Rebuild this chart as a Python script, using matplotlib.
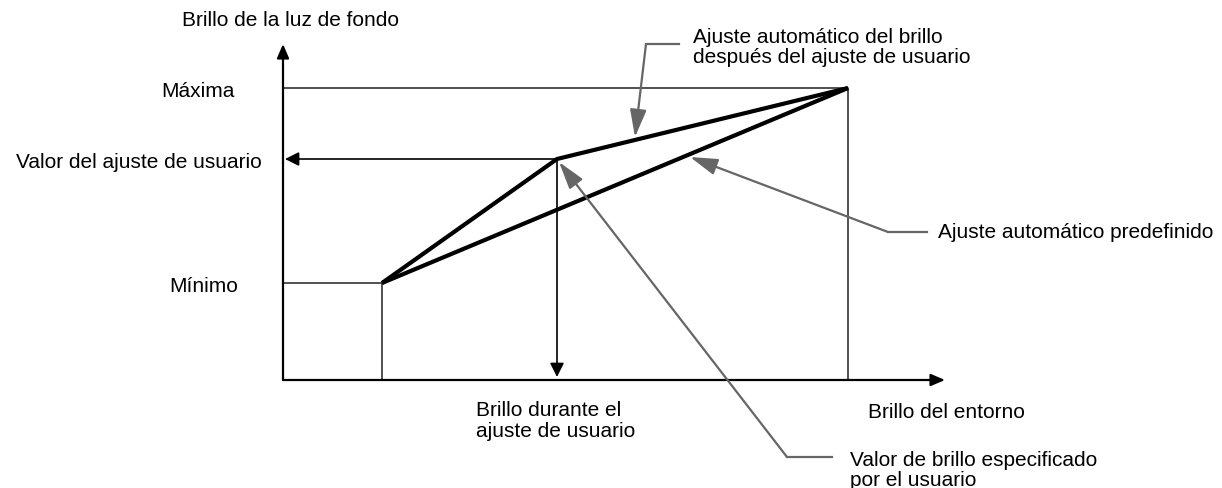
import matplotlib
matplotlib.use('Agg')
import matplotlib.pyplot as plt

# --- schematic values (ambient brightness on x, backlight brightness on y) ---
AMBIENT = [0.99, 2.74, 5.65]        # min point, user-set ambient, max point
BACKLIGHT = [0.97, 2.21, 2.92]      # Mínimo, user value, Máxima
X_AXIS_END = 6.62
Y_AXIS_END = 3.36

LEVEL_LABELS = ['Mínimo', 'Valor del ajuste de usuario', 'Máxima']
LABEL_RIGHT = [-0.45, -0.21, -0.48]

# callouts: text, text anchor, elbow start, elbow end, arrow tip
CALLOUTS = [
    ('Ajuste automático del brillo\ndespués del ajuste de usuario',
     (4.10, 3.335), (3.96, 3.36), (3.63, 3.36), (3.52, 2.43)),
    ('Ajuste automático predefinido',
     (6.55, 1.48), (6.44, 1.48), (6.05, 1.48), (4.07, 2.23)),
    ('Valor de brillo especificado\npor el usuario',
     (5.67, -0.895), (5.49, -0.77), (5.04, -0.77), (2.76, 2.18)),
]

plt.rcParams['font.family'] = ['Liberation Sans', 'DejaVu Sans']
FS = 15
LS = 1.1
AXIS_C = '#333333'
LEADER_C = '#666666'

fig = plt.figure(figsize=(12.22, 4.89), dpi=100)
ax = fig.add_axes([0, 0, 1, 1])
ax.set_xlim(-2.83, 9.39)
ax.set_ylim(-1.08, 3.81)
ax.axis('off')

x_min, x_user, x_max = AMBIENT
y_min, y_user, y_max = BACKLIGHT

# axes with arrowheads
axis_arrow = dict(arrowstyle='-|>,head_length=0.7,head_width=0.3',
                  color='black', lw=1.6, shrinkA=0, shrinkB=0, mutation_scale=12)
ax.annotate('', xy=(0, Y_AXIS_END), xytext=(0, 0), arrowprops=axis_arrow)
ax.annotate('', xy=(X_AXIS_END, 0), xytext=(0, 0), arrowprops=axis_arrow)

# guide lines for minimum and maximum
ax.plot([0, x_min, x_min], [y_min, y_min, 0], color=AXIS_C, lw=1.2)
ax.plot([0, x_max, x_max], [y_max, y_max, 0], color=AXIS_C, lw=1.2)

# user setting arrows
user_arrow = dict(arrowstyle='-|>,head_length=0.7,head_width=0.35',
                  color='black', lw=1.2, shrinkA=0, shrinkB=0, mutation_scale=12)
ax.annotate('', xy=(0.02, y_user), xytext=(x_user, y_user), arrowprops=user_arrow)
ax.annotate('', xy=(x_user, 0.03), xytext=(x_user, y_user), arrowprops=user_arrow)

# brightness curves
ax.plot([x_min, x_max], [y_min, y_max], color='black', lw=3.0,
        solid_joinstyle='miter', solid_capstyle='butt')
ax.plot(AMBIENT, BACKLIGHT, color='black', lw=3.0,
        solid_joinstyle='miter', solid_capstyle='butt')

# level labels on y axis
for lvl, lab, right in zip(BACKLIGHT, LEVEL_LABELS, LABEL_RIGHT):
    ax.text(right, lvl - 0.02, lab, ha='right', va='center', fontsize=FS)

# axis titles
ax.text(0.07, 3.61, 'Brillo de la luz de fondo', ha='center', va='center', fontsize=FS)
ax.text(5.85, -0.32, 'Brillo del entorno', ha='left', va='center', fontsize=FS)
ax.text(1.93, -0.40, 'Brillo durante el\najuste de usuario', ha='left', va='center',
        fontsize=FS, linespacing=LS)

# callouts with leader lines
leader_arrow = dict(arrowstyle='-|>,head_length=1.4,head_width=0.42',
                    color=LEADER_C, lw=1.6, shrinkA=0, shrinkB=0, mutation_scale=12)
for text, tpos, e0, e1, tip in CALLOUTS:
    ax.plot([e0[0], e1[0]], [e0[1], e1[1]], color=LEADER_C, lw=1.6)
    ax.annotate('', xy=tip, xytext=e1, arrowprops=leader_arrow)
    ax.text(tpos[0], tpos[1], text, ha='left', va='center', fontsize=FS,
            linespacing=LS)

fig.savefig('out.png', dpi=100, facecolor='white')
